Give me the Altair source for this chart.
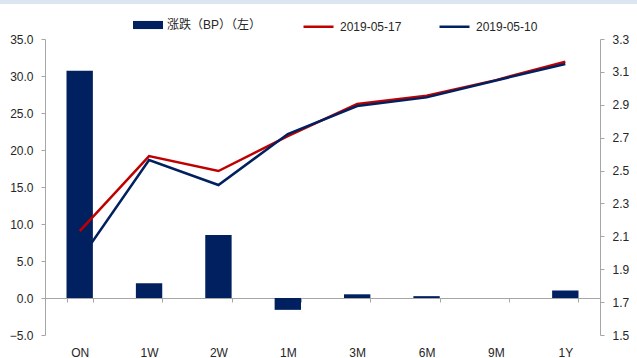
import altair as alt
import pandas as pd

# ---- data ----
tenors = ["ON", "1W", "2W", "1M", "3M", "6M", "9M", "1Y"]
bp_change = [30.7, 2.0, 8.5, -1.6, 0.5, 0.25, 0.0, 1.0]
yield_0517 = [2.132, 2.588, 2.497, 2.710, 2.905, 2.955, 3.050, 3.162]
yield_0510 = [1.956, 2.564, 2.412, 2.722, 2.892, 2.945, 3.048, 3.148]
left_ticks = [-5, 0, 5, 10, 15, 20, 25, 30, 35]
right_ticks = [1.5, 1.7, 1.9, 2.1, 2.3, 2.5, 2.7, 2.9, 3.1, 3.3]
bar_label = "涨跌（BP）（左）"
series_names = ["2019-05-17", "2019-05-10"]

FONT = "Liberation Sans, Noto Sans CJK SC"
NAVY = "#002060"
RED = "#C00000"
GRAY = "#a6a6a6"
TXT = "#262626"

bars_df = pd.DataFrame({"tenor": tenors, "bp": bp_change, "name": bar_label})
lines_df = pd.concat([
    pd.DataFrame({"tenor": tenors, "y": yield_0517, "series": series_names[0]}),
    pd.DataFrame({"tenor": tenors, "y": yield_0510, "series": series_names[1]}),
])

x_enc = alt.X(
    "tenor:N", sort=tenors, title=None,
    scale=alt.Scale(paddingInner=0.62, paddingOuter=0.31),
    axis=alt.Axis(orient="bottom", offset=-37, labelAngle=0, tickSize=4,
                  tickBand="extent", domainColor=GRAY, tickColor=GRAY,
                  labelPadding=45, labelFontSize=12, labelColor=TXT, labelFont=FONT),
)

bars = alt.Chart(bars_df).mark_bar(color=NAVY).encode(
    x=x_enc,
    y=alt.Y("bp:Q", title=None,
            scale=alt.Scale(domain=[-5, 35], nice=False, zero=False),
            axis=alt.Axis(orient="left", values=left_ticks, format=".1f", grid=False,
                          tickSize=4, labelPadding=8, domainColor=GRAY, tickColor=GRAY,
                          labelFontSize=12, labelColor=TXT, labelFont=FONT)),
    color=alt.Color("name:N", scale=alt.Scale(domain=[bar_label], range=[NAVY]),
                    legend=alt.Legend(orient="none", legendX=88, legendY=-29, title=None,
                                      symbolType="M-1,-0.27H1V0.27H-1Z", symbolSize=900,
                                      symbolStrokeWidth=0, labelOffset=4, padding=0,
                                      labelFontSize=12, labelColor=TXT, labelFont=FONT)),
)

y_right = alt.Y("y:Q", title=None,
                scale=alt.Scale(domain=[1.5, 3.3], nice=False, zero=False),
                axis=alt.Axis(orient="right", values=right_ticks, format=".1f", grid=False,
                              tickSize=4, labelPadding=8, domainColor=GRAY, tickColor=GRAY,
                              labelFontSize=12, labelColor=TXT, labelFont=FONT))
color_lines = alt.Color("series:N",
                        scale=alt.Scale(domain=series_names, range=[RED, NAVY]),
                        legend=alt.Legend(orient="none", legendX=257, legendY=-29, title=None,
                                          direction="horizontal", symbolType="stroke",
                                          symbolSize=900, symbolStrokeWidth=2.5,
                                          labelOffset=5, columnPadding=32, padding=0,
                                          labelFontSize=12, labelColor=TXT, labelFont=FONT))

line_red = alt.Chart(lines_df).transform_filter(
    alt.datum.series == series_names[0]
).mark_line(strokeWidth=2.5).encode(x=x_enc, y=y_right, color=color_lines)
line_blue = alt.Chart(lines_df).transform_filter(
    alt.datum.series == series_names[1]
).mark_line(strokeWidth=2.5).encode(x=x_enc, y=y_right, color=color_lines)

strip = alt.Chart(alt.Data(values=[{"a": 1}])).mark_rect(color="#dce6f2").encode(
    x=alt.value(-45), x2=alt.value(592), y=alt.value(-39), y2=alt.value(-35)
)

chart = alt.layer(
    bars, alt.layer(line_red, line_blue), strip
).resolve_scale(y="independent", color="independent").properties(
    width=555, height=296,
    autosize=alt.AutoSizeParams(type="none"),
    padding={"left": 45, "top": 39, "right": 37, "bottom": 23},
    background="white",
).configure_view(stroke=None)

chart.save("out.html", embed_options={"renderer": "svg", "actions": False})
